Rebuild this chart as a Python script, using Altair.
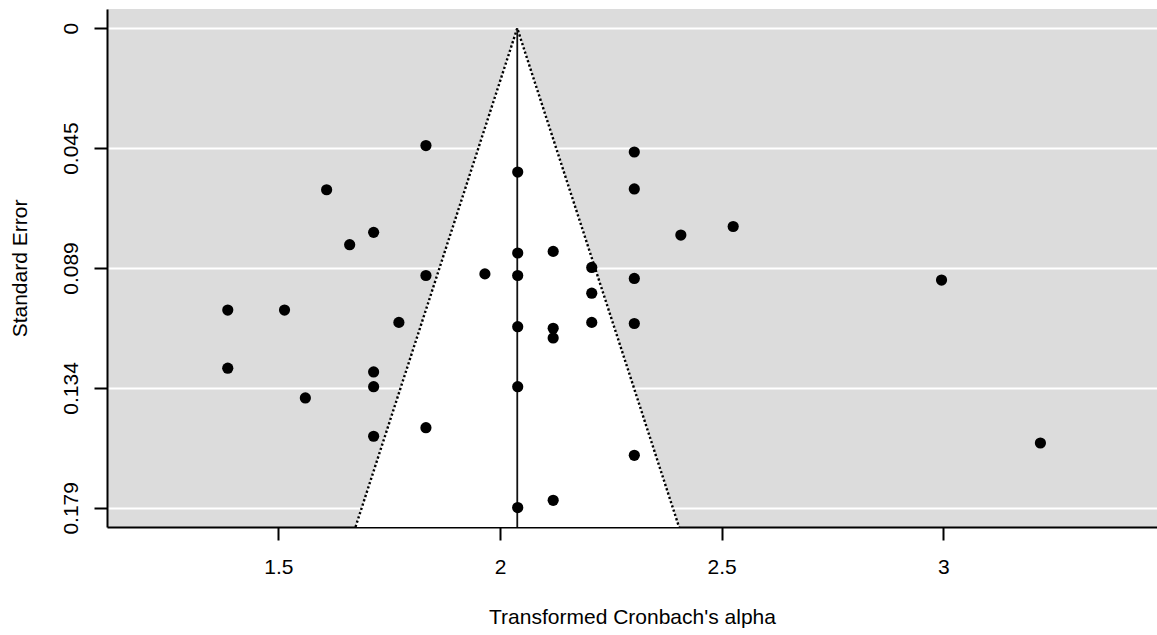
import altair as alt
import pandas as pd

effect = [1.833, 2.303, 2.040, 1.609, 2.303, 1.715, 2.526, 2.408, 1.661, 2.040,
          2.120, 2.207, 1.833, 1.966, 2.040, 2.303, 2.996, 2.207, 1.386, 1.514,
          1.772, 2.207, 2.303, 2.040, 2.120, 2.120, 1.386, 1.715, 1.715, 2.040,
          1.561, 1.833, 1.715, 3.219, 2.303, 2.120, 2.040]
se = [0.0438, 0.0462, 0.0537, 0.0603, 0.0600, 0.0762, 0.0740, 0.0772, 0.0808, 0.0839,
      0.0833, 0.0893, 0.0923, 0.0917, 0.0923, 0.0934, 0.0940, 0.0989, 0.1052, 0.1052,
      0.1098, 0.1098, 0.1102, 0.1114, 0.1120, 0.1156, 0.1269, 0.1283, 0.1338, 0.1338,
      0.1380, 0.1491, 0.1523, 0.1548, 0.1594, 0.1762, 0.1789]

center_estimate = 2.039
z_crit = 1.96

x_ticks = [1.5, 2, 2.5, 3]
x_domain = [1.1136, 3.482]
y_ticks = [0, 0.04475, 0.0895, 0.13425, 0.179]
y_labels = ["0", "0.045", "0.089", "0.134", "0.179"]
y_domain = [-0.00716, 0.18616]

FONT = "Liberation Sans"

pts = pd.DataFrame({"yi": effect, "sei": se})
funnel = pd.DataFrame({"sei": [0.0, y_domain[1]], "est": [center_estimate] * 2})
edge = pd.DataFrame({"sei": [y_domain[1], 0.0, y_domain[1]],
                     "side": [-1, 0, 1], "ord": [0, 1, 2],
                     "est": [center_estimate] * 3})
vline = pd.DataFrame({"est": [center_estimate], "s0": [0.0], "s1": [y_domain[1]]})

# label expression for y axis
mids = [(y_ticks[i] + y_ticks[i + 1]) / 2 for i in range(len(y_ticks) - 1)]
expr = f"'{y_labels[-1]}'"
for m, lab in reversed(list(zip(mids, y_labels[:-1]))):
    expr = f"datum.value < {m} ? '{lab}' : ({expr})"

xs = alt.Scale(domain=x_domain, nice=False, zero=False)
ys = alt.Scale(domain=y_domain, reverse=True, nice=False, zero=False)

xaxis = alt.Axis(values=x_ticks, format="~g", title="Transformed Cronbach's alpha",
                 labelFont=FONT, titleFont=FONT, labelFontSize=21, titleFontSize=21,
                 labelColor="black", titleColor="black", titleFontWeight="normal",
                 tickSize=13, tickWidth=2, tickColor="black",
                 domainColor="black", domainWidth=2, grid=False,
                 labelPadding=16, labelFlush=False, labelOverlap=False,
                 titleY=96, titleBaseline="alphabetic")
yaxis = alt.Axis(values=y_ticks, labelExpr=expr, title="Standard Error",
                 labelFont=FONT, titleFont=FONT, labelFontSize=21, titleFontSize=21,
                 labelColor="black", titleColor="black", titleFontWeight="normal",
                 labelAngle=270, labelAlign="center", labelBaseline="alphabetic",
                 labelPadding=17, labelFlush=False, labelOverlap=False,
                 tickSize=13, tickWidth=2, tickColor="black",
                 domainColor="black", domainWidth=2,
                 grid=True, gridColor="white", gridWidth=1.8,
                 titleAngle=270, titleAlign="center", titleBaseline="alphabetic",
                 titleX=-80.5, titleY=259)

area = alt.Chart(funnel).transform_calculate(
    lo=f"datum.est - {z_crit} * datum.sei",
    hi=f"datum.est + {z_crit} * datum.sei",
).mark_area(orient="horizontal", color="white", opacity=1, clip=True).encode(
    y=alt.Y("sei:Q", scale=ys, axis=yaxis),
    x=alt.X("lo:Q", scale=xs, axis=xaxis),
    x2="hi:Q",
)

edges = alt.Chart(edge).transform_calculate(
    xe=f"datum.est + datum.side * {z_crit} * datum.sei"
).mark_line(color="black", strokeDash=[2.2, 2.3], strokeWidth=2.4, clip=True).encode(
    x=alt.X("xe:Q", scale=xs, axis=xaxis),
    y=alt.Y("sei:Q", scale=ys, axis=yaxis),
    order="ord:Q",
)

rule = alt.Chart(vline).mark_rule(color="#111111", strokeWidth=1.8).encode(
    x=alt.X("est:Q", scale=xs, axis=xaxis),
    y=alt.Y("s0:Q", scale=ys, axis=yaxis),
    y2="s1:Q",
)

points = alt.Chart(pts).mark_circle(size=125, color="black", opacity=1).encode(
    x=alt.X("yi:Q", scale=xs, axis=xaxis),
    y=alt.Y("sei:Q", scale=ys, axis=yaxis),
)

chart = alt.layer(area, edges, rule, points).properties(
    width=1050, height=518,
    padding={"left": 107, "top": 9, "right": 0, "bottom": 108},
    autosize=alt.AutoSizeParams(type="none"),
    background="white",
).configure_view(fill="#DCDCDC", stroke=None)

chart.save("out.html", embed_options={"renderer": "svg", "actions": False})
